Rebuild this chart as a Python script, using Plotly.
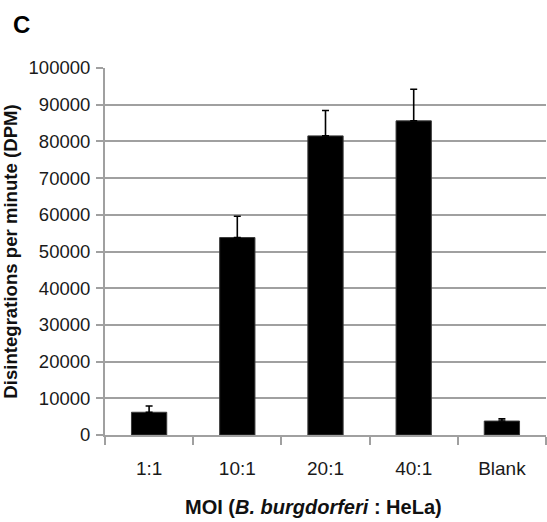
import plotly.graph_objects as go

# Uptake measured as disintegrations per minute at each multiplicity of infection
categories = ["1:1", "10:1", "20:1", "40:1", "Blank"]
dpm_mean = [6200, 53800, 81500, 85600, 3800]
dpm_err = [1700, 5800, 6900, 8600, 600]
y_ticks = [0, 10000, 20000, 30000, 40000, 50000, 60000, 70000, 80000, 90000, 100000]

FONT = "Liberation Sans, Arial, sans-serif"
GRID = "#a0a0a0"

# Plot-area geometry in page pixels, used to place the free-standing labels
PLOT_L, PLOT_W, PLOT_T, PLOT_H = 105, 441, 68, 367

fig = go.Figure(
    go.Bar(
        x=categories,
        y=dpm_mean,
        marker=dict(color="#000000", line=dict(color="#3a3a3a", width=1)),
        error_y=dict(type="data", array=dpm_err, arrayminus=[0] * len(dpm_err),
                     symmetric=False, color="#000000", thickness=1.6, width=3.5),
        width=0.4,
    )
)

fig.update_layout(
    width=547,
    height=522,
    margin=dict(l=PLOT_L, r=1, t=PLOT_T, b=522 - PLOT_T - PLOT_H),
    paper_bgcolor="white",
    plot_bgcolor="white",
    showlegend=False,
    font=dict(family=FONT, color="#1a1a1a"),
)

fig.update_xaxes(
    type="category",
    tickson="boundaries",
    ticks="outside",
    ticklen=8,
    tickcolor=GRID,
    tickwidth=1.5,
    ticklabelstandoff=15,
    showline=True,
    linecolor=GRID,
    linewidth=2,
    showgrid=False,
    tickfont=dict(size=19, family=FONT),
)

fig.update_yaxes(
    range=[0, 100000],
    tickvals=y_ticks,
    ticktext=[str(v) for v in y_ticks],
    ticks="outside",
    ticklen=7,
    tickcolor=GRID,
    tickwidth=1.5,
    ticklabelstandoff=2,
    showline=True,
    linecolor=GRID,
    linewidth=2,
    showgrid=True,
    gridcolor=GRID,
    gridwidth=2,
    zeroline=False,
    tickfont=dict(size=18.5, family=FONT),
    title=dict(text="<b>Disintegrations per minute (DPM)</b>",
               font=dict(size=18.6, family=FONT, color="#111111"), standoff=8),
)

# X-axis title, centred a little left of the plot-area centre
fig.add_annotation(
    text="<b>MOI (<i>B. burgdorferi</i> : HeLa)</b>", xref="paper", yref="paper",
    x=(313 - PLOT_L) / PLOT_W, y=(PLOT_T + PLOT_H - 507) / PLOT_H,
    xanchor="center", yanchor="middle", showarrow=False,
    font=dict(size=20, family=FONT, color="#111111"),
)

# Panel letter
fig.add_annotation(
    text="<b>C</b>", xref="paper", yref="paper",
    x=(11 - PLOT_L) / PLOT_W, y=1 + (PLOT_T - 9) / PLOT_H,
    xanchor="left", yanchor="top", showarrow=False,
    font=dict(size=24, family=FONT, color="#000000"),
)

fig.write_html("out.html")
